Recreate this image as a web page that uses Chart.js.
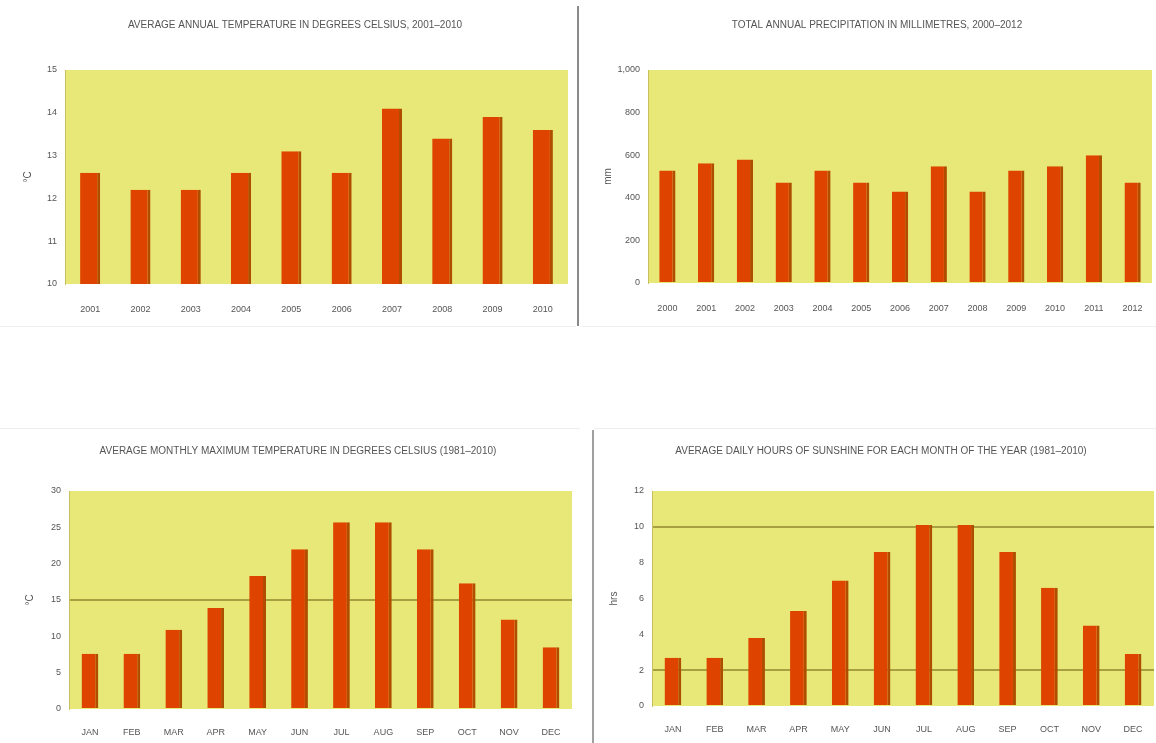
<!DOCTYPE html>
<html>
<head>
<meta charset="utf-8">
<script src="https://cdn.jsdelivr.net/npm/chart.js@4/dist/chart.umd.min.js"></script>
<style>
  html, body { margin: 0; padding: 0; background: #ffffff; }
  body { width: 1156px; height: 743px; position: relative; overflow: hidden; }
  .panel { position: absolute; background: #fff; }
  .panel canvas { display: block; }
  #p1 { left: 0; top: 0; width: 576px; height: 326px; border-bottom: 1px solid #eeeeee; }
  #p2 { left: 582px; top: 0; width: 574px; height: 326px; border-bottom: 1px solid #eeeeee; }
  #p3 { left: 0; top: 428px; width: 580px; height: 315px; border-top: 1px solid #eeeeee; }
  #p4 { left: 594px; top: 428px; width: 562px; height: 315px; border-top: 1px solid #eeeeee; }
  .divider { position: absolute; background: #8a8a8a; }
</style>
</head>
<body>
<div class="panel" id="p1"><canvas id="c1" width="576" height="326"></canvas></div>
<div class="panel" id="p2"><canvas id="c2" width="574" height="326"></canvas></div>
<div class="panel" id="p3"><canvas id="c3" width="580" height="315"></canvas></div>
<div class="panel" id="p4"><canvas id="c4" width="562" height="315"></canvas></div>
<div class="divider" style="left:577px; top:6px; width:2px; height:320px;"></div>
<div class="divider" style="left:592px; top:430px; width:2px; height:313px; background:#a0a0a0;"></div>
<script>
// Annual mean temperature, 2001-2010
const tempYears = ['2001', '2002', '2003', '2004', '2005', '2006', '2007', '2008', '2009', '2010'];
const tempAnnual = [12.6, 12.2, 12.2, 12.6, 13.1, 12.6, 14.1, 13.4, 13.9, 13.6];
const tempTicks = [10, 11, 12, 13, 14, 15];

// Total annual precipitation, 2000-2012
const rainYears = ['2000', '2001', '2002', '2003', '2004', '2005', '2006', '2007', '2008', '2009', '2010', '2011', '2012'];
const rainAnnual = [528, 562, 580, 472, 528, 472, 430, 548, 430, 528, 548, 600, 472];
const rainTicks = [0, 200, 400, 600, 800, 1000];

// Monthly climate normals
const months = ['JAN', 'FEB', 'MAR', 'APR', 'MAY', 'JUN', 'JUL', 'AUG', 'SEP', 'OCT', 'NOV', 'DEC'];
const maxTemp = [7.6, 7.6, 10.9, 13.9, 18.3, 22.0, 25.7, 25.7, 22.0, 17.3, 12.3, 8.5];
const maxTempTicks = [0, 5, 10, 15, 20, 25, 30];
const maxTempRefLines = [15];
const sunHours = [2.7, 2.7, 3.8, 5.3, 7.0, 8.6, 10.1, 10.1, 8.6, 6.6, 4.5, 2.9];
const sunTicks = [0, 2, 4, 6, 8, 10, 12];
const sunRefLines = [2, 10];

const PLOT_BG = '#e8e878';
const BAR = '#de4400';
const BAR_EDGE = '#b04e00';
const REF_LINE = '#a8a040';
const TEXT = '#555555';
const FONT = '"Liberation Sans", Arial, sans-serif';

// Fills the plotting area before the grid and bars are drawn
const plotBackground = {
  id: 'plotBackground',
  beforeDraw(chart) {
    const a = chart.chartArea;
    const ctx = chart.ctx;
    ctx.save();
    ctx.fillStyle = PLOT_BG;
    ctx.fillRect(a.left, a.top, a.right - a.left, a.bottom - a.top);
    ctx.restore();
  }
};

function barChart(id, opts) {
  const tickValues = opts.ticks;
  const refs = opts.refLines || [];
  return new Chart(document.getElementById(id), {
    type: 'bar',
    data: {
      labels: opts.labels,
      datasets: [{
        data: opts.values,
        backgroundColor: BAR,
        borderColor: BAR_EDGE,
        borderWidth: { right: 3 },
        borderSkipped: false,
        barPercentage: opts.barPct,
        categoryPercentage: 1
      }]
    },
    options: {
      responsive: false,
      animation: false,
      layout: { padding: opts.padding },
      plugins: {
        legend: { display: false },
        tooltip: { enabled: false },
        title: {
          display: true,
          text: opts.title,
          color: TEXT,
          font: { family: FONT, size: 10, weight: 'normal' },
          padding: { top: opts.titleTop, bottom: opts.titleBottom }
        }
      },
      scales: {
        x: {
          grid: { display: false },
          border: { display: false },
          ticks: { color: TEXT, font: { family: FONT, size: 9 }, padding: opts.xTickPad, maxRotation: 0, autoSkip: false },
          afterFit(scale) { scale.height = opts.xHeight; }
        },
        y: {
          min: tickValues[0],
          max: tickValues[tickValues.length - 1],
          afterBuildTicks(scale) { scale.ticks = tickValues.map(v => ({ value: v })); },
          grid: {
            drawTicks: false,
            color: ctx => (ctx.tick && refs.includes(ctx.tick.value)) ? REF_LINE : 'rgba(0,0,0,0)',
            lineWidth: 2
          },
          border: { display: true, color: '#c8c060', width: 1 },
          ticks: { color: TEXT, font: { family: FONT, size: 9 }, padding: 8 },
          title: { display: true, text: opts.yTitle, color: TEXT, font: { family: FONT, size: 10 }, padding: 0 },
          afterFit(scale) { scale.width = opts.yWidth; }
        }
      }
    },
    plugins: [plotBackground]
  });
}

barChart('c1', {
  labels: tempYears, values: tempAnnual, ticks: tempTicks, yTitle: '°C',
  title: 'AVERAGE ANNUAL TEMPERATURE IN DEGREES CELSIUS, 2001–2010',
  barPct: 0.4, padding: { left: 22, right: 8, top: 0, bottom: 12 },
  titleTop: 19, titleBottom: 39, xHeight: 30, xTickPad: 12, yWidth: 43
});

barChart('c2', {
  labels: rainYears, values: rainAnnual, ticks: rainTicks, yTitle: 'mm',
  title: 'TOTAL ANNUAL PRECIPITATION IN MILLIMETRES, 2000–2012',
  barPct: 0.42, padding: { left: 20, right: 4, top: 0, bottom: 12 },
  titleTop: 19, titleBottom: 39, xHeight: 31, xTickPad: 12, yWidth: 46
});

barChart('c3', {
  labels: months, values: maxTemp, ticks: maxTempTicks, yTitle: '°C', refLines: maxTempRefLines,
  title: 'AVERAGE MONTHLY MAXIMUM TEMPERATURE IN DEGREES CELSIUS (1981–2010)',
  barPct: 0.4, padding: { left: 24, right: 8, top: 0, bottom: 6 },
  titleTop: 16, titleBottom: 34, xHeight: 29, xTickPad: 10, yWidth: 45
});

barChart('c4', {
  labels: months, values: sunHours, ticks: sunTicks, yTitle: 'hrs', refLines: sunRefLines,
  title: 'AVERAGE DAILY HOURS OF SUNSHINE FOR EACH MONTH OF THE YEAR (1981–2010)',
  barPct: 0.4, padding: { left: 14, right: 2, top: 0, bottom: 8 },
  titleTop: 16, titleBottom: 34, xHeight: 30, xTickPad: 10, yWidth: 44
});
</script>
</body>
</html>
